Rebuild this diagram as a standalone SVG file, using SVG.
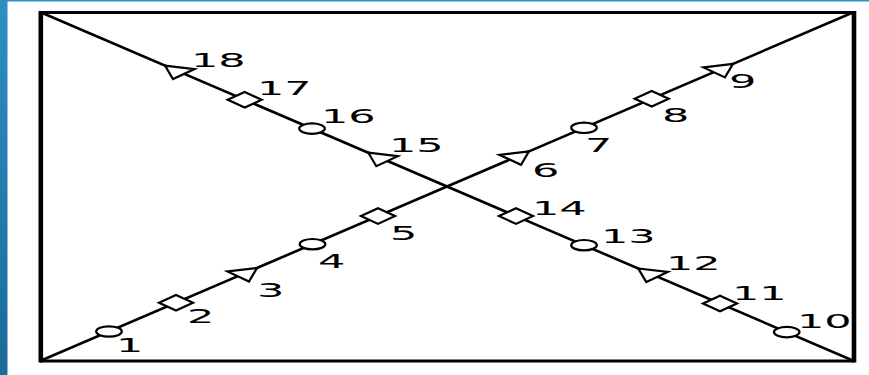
<svg xmlns="http://www.w3.org/2000/svg" xmlns:xlink="http://www.w3.org/1999/xlink" width="869" height="375" viewBox="0 0 869 375">
<style>
.mk{fill:#fff;stroke:#000;stroke-width:2.2;stroke-linejoin:miter}
.ln{stroke:#000;stroke-width:2.6;fill:none}
.lbl{font-family:"DejaVu Sans",sans-serif;font-size:20px;fill:#000}
</style>
<defs>
<linearGradient id="bl" x1="0" y1="0" x2="0" y2="1">
<stop offset="0" stop-color="#2e8fc0"/>
<stop offset="1" stop-color="#1b6a9c"/>
</linearGradient>
<ellipse id="circ" rx="12.8" ry="5.2"/>
<path id="dia" d="M-17,0 L0,-7.8 L17,0 L0,7.8 Z"/>
<path id="triA" d="M0,0 L-29.5,3.5 L-8,13.5 Z"/>
<path id="triB" d="M0,0 L29.5,3.5 L8,13.5 Z"/>
</defs>
<rect width="869" height="375" fill="#fff"/>
<rect x="0" y="0" width="869" height="1.5" fill="#2e8fc0"/>
<rect x="0" y="0" width="7.5" height="375" fill="url(#bl)"/>
<g id="frame">
<path d="M40,12.5 H854 M40,361 H854" stroke="#000" stroke-width="3" fill="none"/>
<path d="M40.8,11 V362.5 M854,11 V362.5" stroke="#000" stroke-width="4.6" fill="none"/>
</g>
<g id="connectors">
<line class="ln" x1="40" y1="361" x2="854" y2="12"/>
<line class="ln" x1="40" y1="12" x2="854" y2="361"/>
</g>
<g id="m1"><use href="#circ" class="mk" x="109" y="331.5"/><text class="lbl" transform="translate(116,352) scale(2.15,1)">1</text></g>
<g id="m2"><use href="#dia" class="mk" x="176" y="302.7"/><text class="lbl" transform="translate(187,323) scale(2.15,1)">2</text></g>
<g id="m3"><use href="#triA" class="mk" x="257" y="268"/><text class="lbl" transform="translate(257,297) scale(2.15,1)">3</text></g>
<g id="m4"><use href="#circ" class="mk" x="312.5" y="244.2"/><text class="lbl" transform="translate(318,268) scale(2.15,1)">4</text></g>
<g id="m5"><use href="#dia" class="mk" x="378" y="216.1"/><text class="lbl" transform="translate(390,240) scale(2.15,1)">5</text></g>
<g id="m6"><use href="#triA" class="mk" x="529" y="151.3"/><text class="lbl" transform="translate(532,177) scale(2.15,1)">6</text></g>
<g id="m7"><use href="#circ" class="mk" x="584" y="127.8"/><text class="lbl" transform="translate(585,152) scale(2.15,1)">7</text></g>
<g id="m8"><use href="#dia" class="mk" x="651.7" y="98.8"/><text class="lbl" transform="translate(662,122) scale(2.15,1)">8</text></g>
<g id="m9"><use href="#triA" class="mk" x="733" y="63.9"/><text class="lbl" transform="translate(729,88) scale(2.15,1)">9</text></g>
<g id="m10"><use href="#circ" class="mk" x="786.7" y="332.1"/><text class="lbl" transform="translate(797,328) scale(2.15,1)">10</text></g>
<g id="m11"><use href="#dia" class="mk" x="720" y="303.5"/><text class="lbl" transform="translate(732,300) scale(2.15,1)">11</text></g>
<g id="m12"><use href="#triB" class="mk" x="638.3" y="268.5"/><text class="lbl" transform="translate(666,270) scale(2.15,1)">12</text></g>
<g id="m13"><use href="#circ" class="mk" x="584" y="245.2"/><text class="lbl" transform="translate(601,243) scale(2.15,1)">13</text></g>
<g id="m14"><use href="#dia" class="mk" x="516" y="216.1"/><text class="lbl" transform="translate(532,215) scale(2.15,1)">14</text></g>
<g id="m15"><use href="#triB" class="mk" x="368.3" y="152.7"/><text class="lbl" transform="translate(389,152) scale(2.15,1)">15</text></g>
<g id="m16"><use href="#circ" class="mk" x="312" y="128.6"/><text class="lbl" transform="translate(321,123) scale(2.15,1)">16</text></g>
<g id="m17"><use href="#dia" class="mk" x="244.7" y="99.8"/><text class="lbl" transform="translate(257,95) scale(2.15,1)">17</text></g>
<g id="m18"><use href="#triB" class="mk" x="165" y="65.6"/><text class="lbl" transform="translate(191,67) scale(2.15,1)">18</text></g>
</svg>
